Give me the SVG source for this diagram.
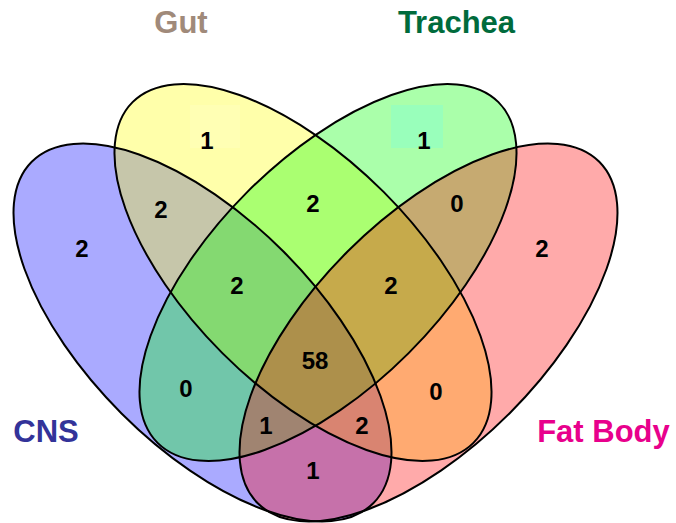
<svg xmlns="http://www.w3.org/2000/svg" xmlns:xlink="http://www.w3.org/1999/xlink" width="676" height="523" viewBox="0 0 676 523">
<style>
.fill{fill-opacity:0.3333;stroke:none}
.outline{fill:none;stroke:#000;stroke-width:2}
.title{font-family:"Liberation Sans",Arial,sans-serif;font-weight:bold;font-size:31px;text-anchor:middle}
.count{font-family:"Liberation Sans",Arial,sans-serif;font-weight:bold;font-size:24px;text-anchor:middle;fill:#000}
</style>
<defs>
<ellipse id="e-cns" cx="0" cy="0" rx="241.5" ry="114.5" transform="translate(202.5,332.5) rotate(45)"/>
<ellipse id="e-gut" cx="0" cy="0" rx="241" ry="114" transform="translate(303,272.5) rotate(45)"/>
<ellipse id="e-tra" cx="0" cy="0" rx="241" ry="114" transform="translate(328,272.5) rotate(-45)"/>
<ellipse id="e-fat" cx="0" cy="0" rx="241.5" ry="114.5" transform="translate(428.5,332.5) rotate(-45)"/>
</defs>
<rect width="676" height="523" fill="#fff"/>
<g id="cns">
<use xlink:href="#e-cns" class="fill" fill="#0000ff"/>
<text class="title" x="46" y="442" fill="#333399">CNS</text>
</g>
<g id="gut">
<use xlink:href="#e-gut" class="fill" fill="#ffff00"/>
<text class="title" x="181" y="33" fill="#a08a7a">Gut</text>
</g>
<g id="trachea">
<use xlink:href="#e-tra" class="fill" fill="#00ff00"/>
<text class="title" x="456.5" y="33" fill="#006b3c">Trachea</text>
</g>
<g id="fatbody">
<use xlink:href="#e-fat" class="fill" fill="#ff0000"/>
<text class="title" x="603.5" y="442" fill="#e8008c">Fat Body</text>
</g>
<g id="label-bg">
<rect x="190" y="105" width="50" height="43" fill="#ffffb4"/>
<rect x="391" y="105" width="52" height="43" fill="#99ffbb"/>
</g>
<g id="connectors">
<use xlink:href="#e-cns" class="outline"/>
<use xlink:href="#e-gut" class="outline"/>
<use xlink:href="#e-tra" class="outline"/>
<use xlink:href="#e-fat" class="outline"/>
</g>
<g id="counts">
<text class="count" x="207" y="149">1</text>
<text class="count" x="424" y="149">1</text>
<text class="count" x="161" y="218">2</text>
<text class="count" x="313" y="212">2</text>
<text class="count" x="457" y="212">0</text>
<text class="count" x="82" y="257">2</text>
<text class="count" x="542" y="257">2</text>
<text class="count" x="237" y="294">2</text>
<text class="count" x="391" y="294">2</text>
<text class="count" x="315" y="369">58</text>
<text class="count" x="186" y="397">0</text>
<text class="count" x="436" y="400">0</text>
<text class="count" x="266" y="434">1</text>
<text class="count" x="362" y="434">2</text>
<text class="count" x="313" y="479">1</text>
</g>
</svg>
